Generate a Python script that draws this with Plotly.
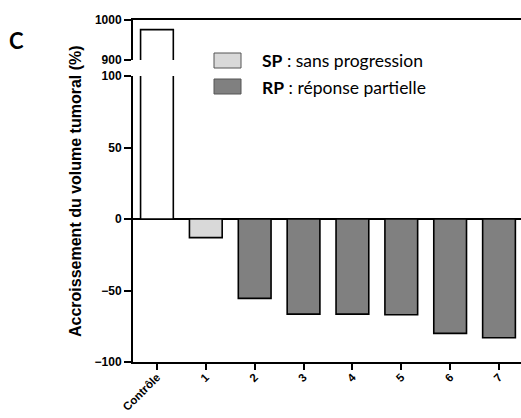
import plotly.graph_objects as go

categories = ["Contrôle", "1", "2", "3", "4", "5", "6", "7"]
growth = [976, -13, -55.5, -66.5, -66.5, -67, -80, -83]
group = ["contrôle", "SP", "RP", "RP", "RP", "RP", "RP", "RP"]

fill_for = {"contrôle": "#ffffff", "SP": "#d9d9d9", "RP": "#808080"}
colors = [fill_for[g] for g in group]

legend_keys = ["SP", "RP"]
legend_bold = ["SP", "RP"]
legend_text = [" : sans progression", " : réponse partielle"]

W, H = 521, 418
ML, MR, MT, MB = 133, 0, 20, 56
ph = H - MT - MB

def ypaper(px):
    return 1 - (px - MT) / ph

fig = go.Figure()
bar_common = dict(
    x=categories, y=growth, width=0.67,
    marker=dict(color=colors, line=dict(color="black", width=1.6)),
    showlegend=False, hoverinfo="x+y",
)
fig.add_trace(go.Bar(xaxis="x", yaxis="y", **bar_common))
fig.add_trace(go.Bar(xaxis="x2", yaxis="y2", **bar_common))

tickfont = dict(family="Liberation Sans, Arial", size=12, color="black", weight="bold")

fig.update_layout(
    width=W, height=H,
    margin=dict(l=ML, r=MR, t=MT, b=MB, autoexpand=False),
    paper_bgcolor="white", plot_bgcolor="white",
    bargap=0.33,
    xaxis=dict(
        anchor="y", range=[-0.49, 7.45], type="category", automargin=False,
        showline=True, linecolor="black", linewidth=2,
        ticks="outside", ticklen=6, tickwidth=2, tickcolor="black",
        tickangle=-45, ticklabelstandoff=-4,
        tickfont=dict(family="Liberation Sans, Arial", size=11.5, color="#000000", weight="bold"),
        showgrid=False, zeroline=False,
    ),
    xaxis2=dict(
        anchor="y2", matches="x", range=[-0.49, 7.45], type="category", automargin=False,
        side="top", showline=True, linecolor="black", linewidth=2,
        showticklabels=False, ticks="", showgrid=False, zeroline=False,
    ),
    yaxis=dict(
        domain=[0, ypaper(76)], range=[-100, 100], automargin=False,
        tickvals=[-100, -50, 0, 50, 100],
        showline=True, linecolor="black", linewidth=2,
        ticks="outside", ticklen=7, tickwidth=2, tickcolor="black",
        tickfont=tickfont, showgrid=False,
        zeroline=True, zerolinecolor="black", zerolinewidth=2,
    ),
    yaxis2=dict(
        domain=[ypaper(60), 1], range=[900, 1000], automargin=False,
        tickvals=[900, 1000],
        showline=True, linecolor="black", linewidth=2,
        ticks="outside", ticklen=7, tickwidth=2, tickcolor="black",
        tickfont=tickfont, showgrid=False, zeroline=False,
    ),
)

# y-axis title
fig.add_annotation(
    text="Accroissement du volume tumoral (%)", textangle=-90,
    xref="paper", yref="paper", x=(75 - ML) / (W - ML - MR), y=ypaper(191),
    xanchor="center", yanchor="middle", showarrow=False,
    font=dict(family="Liberation Sans, Arial", size=16, color="black", weight="bold"),
)

# panel letter
fig.add_annotation(
    text="<b>C</b>", xref="paper", yref="paper",
    x=(16 - ML) / (W - ML - MR), y=ypaper(40),
    xanchor="center", yanchor="middle", showarrow=False,
    font=dict(family="Lato, Open Sans", size=22, color="black"),
)

# legend
box_tops = [53, 79]
for i, key in enumerate(legend_keys):
    y0 = box_tops[i]
    fig.add_shape(
        type="rect", xref="paper", yref="paper",
        x0=(214 - ML) / (W - ML), x1=(241 - ML) / (W - ML),
        y0=ypaper(y0 + 15), y1=ypaper(y0),
        fillcolor=fill_for[key], line=dict(color="#555555", width=1),
    )
    fig.add_annotation(
        text=f"<b>{legend_bold[i]}</b>{legend_text[i]}", xref="paper", yref="paper",
        x=(260 - ML) / (W - ML), y=ypaper(y0 + 8),
        xanchor="left", yanchor="middle", showarrow=False,
        font=dict(family="Lato, Open Sans", size=17.5, color="black"),
    )

fig.write_html(
    "out.html",
    config={"displayModeBar": False},
    post_script="document.body.style.margin='0';document.body.style.overflow='hidden';",
)
